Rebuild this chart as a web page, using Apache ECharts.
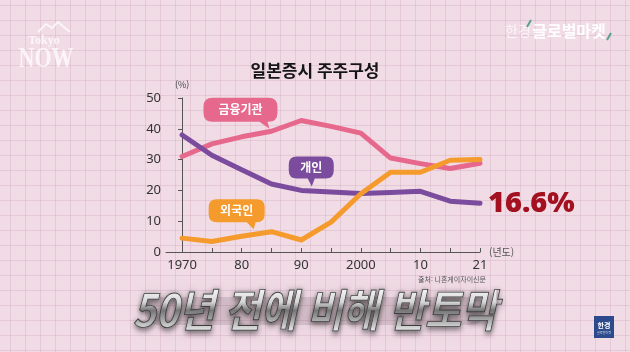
<!DOCTYPE html>
<html lang="ko">
<head>
<meta charset="UTF-8">
<title>일본증시 주주구성</title>
<script src="https://cdn.jsdelivr.net/npm/echarts@6/dist/echarts.min.js"></script>
<style>
    html, body { margin: 0; padding: 0; }
    #wrap { position: relative; width: 630px; height: 352px; }
    #main {
        width: 630px;
        height: 352px;
        background-color: #f1dce6;
        background-image:
            linear-gradient(to right, rgba(200,150,175,0.28) 1px, transparent 1px),
            linear-gradient(to bottom, rgba(200,150,175,0.28) 1px, transparent 1px);
        background-size: 15px 15px;
        background-position: 10px 5px;
    }
    #caption {
        position: absolute;
        left: 0;
        top: 284px;
        width: 630px;
        text-align: center;
        pointer-events: none;
    }
    #caption span {
        display: inline-block;
        font: italic bold 45px/48px "Noto Sans CJK KR", sans-serif;
        letter-spacing: -1px;
        transform: scaleX(0.89);
        color: transparent;
        background: linear-gradient(to bottom, #ffffff 0%, #d6d6d6 38%, #767676 55%, #a8a8a8 75%, #efefef 100%);
        -webkit-background-clip: text;
        background-clip: text;
        -webkit-text-stroke: 0.9px #3e3e3e;
        filter: drop-shadow(0 2px 3px rgba(0,0,0,0.6));
    }
</style>
</head>
<body>
<div id="wrap">
    <div id="main"></div>
    <div id="caption"><span>50년 전에 비해 반토막</span></div>
</div>
<script type="text/javascript">
// 연도 (x축) - 1970~2015는 5년 간격, 마지막은 2021
var years = ['1970', '75', '80', '85', '90', '95', '2000', '05', '10', '15', '21'];
var yearTicks = [0, 1, 2, 3, 4, 5, 6, 7, 8, 9, 10];
var labelTicks = [0, 2, 4, 6, 8, 10];
// 주주 비율 (%)
var financial = [31.0, 35.1, 37.4, 39.2, 42.7, 40.8, 38.6, 30.5, 28.7, 27.1, 28.8];
var individual = [38.0, 31.4, 26.7, 22.1, 20.0, 19.5, 19.0, 19.3, 19.7, 16.5, 15.8];
var foreign = [4.5, 3.4, 5.1, 6.6, 3.9, 9.7, 18.9, 25.9, 25.9, 29.8, 30.0];

var FONT = '"Noto Sans CJK KR", "Noto Sans", sans-serif';

function pairs(arr) {
    var out = [];
    for (var i = 0; i < arr.length; i++) out.push([i, arr[i]]);
    return out;
}

// 말풍선 모양
var bubblePink = 'path://M9,0 H65 Q74,0 74,9 V15 Q74,24 65,24 H64 L66,31 L56,24 H9 Q0,24 0,15 V9 Q0,0 9,0 Z';
var bubblePurple = 'path://M8,0 H37 Q45,0 45,8 V14 Q45,22 37,22 H26 L23,30 L19,22 H8 Q0,22 0,14 V8 Q0,0 8,0 Z';
var bubbleOrange = 'path://M8,0 H48 Q56,0 56,8 V15 Q56,23 48,23 H47 L45,30 L38,23 H8 Q0,23 0,15 V8 Q0,0 8,0 Z';

function bubbleLabel(text) {
    return {
        show: true, position: 'inside', formatter: text,
        color: '#fff', fontSize: 12, fontWeight: 'bold', fontFamily: FONT,
        offset: [0, -3.5]
    };
}

function lineSeries(name, data, color, extra) {
    var s = {
        name: name,
        type: 'line',
        data: pairs(data),
        showSymbol: false,
        symbol: 'none',
        lineStyle: { width: 5, color: color, cap: 'round', join: 'round' },
        itemStyle: { color: color },
        silent: true,
        animation: false
    };
    for (var k in extra) s[k] = extra[k];
    return s;
}

var myChart = echarts.init(document.getElementById('main'), null, { renderer: 'canvas' });

var option = {
    backgroundColor: 'transparent',
    animation: false,
    title: {
        text: '일본증시 주주구성',
        left: 'center',
        top: 57,
        textStyle: { fontFamily: FONT, fontSize: 17, fontWeight: 'bold', color: '#151515' }
    },
    grid: { left: 166, right: 150, top: 98, bottom: 100 },
    xAxis: {
        type: 'value',
        min: -0.54,
        max: 10,
        name: '(년도)',
        nameLocation: 'end',
        nameGap: 9,
        nameTextStyle: { fontFamily: FONT, fontSize: 10, color: '#555' },
        axisLine: { lineStyle: { color: '#555', width: 1 } },
        axisTick: { show: true, inside: true, length: 4, customValues: yearTicks, lineStyle: { color: '#555' } },
        axisLabel: {
            customValues: labelTicks,
            margin: 7,
            fontFamily: '"Noto Sans", sans-serif',
            fontSize: 13,
            color: '#333',
            formatter: function (v) { return years[Math.round(v)]; }
        },
        splitLine: { show: false }
    },
    yAxis: {
        type: 'value',
        min: 0,
        max: 50,
        interval: 10,
        name: '(%)',
        nameGap: 9,
        nameTextStyle: { fontFamily: FONT, fontSize: 9, color: '#444' },
        axisLine: { show: true, lineStyle: { color: '#555', width: 1 } },
        axisTick: { show: true, length: 4, lineStyle: { color: '#555' } },
        axisLabel: { margin: 5, fontFamily: '"Noto Sans", sans-serif', fontSize: 13, color: '#333' },
        splitLine: { show: false }
    },
    series: [
        lineSeries('금융기관', financial, '#e6688c', {
            markPoint: {
                silent: true,
                data: [{
                    coord: [3, financial[3]],
                    symbol: bubblePink, symbolSize: [74, 31], symbolOffset: [-31, -18],
                    itemStyle: { color: '#e6688c' },
                    label: bubbleLabel('금융기관')
                }]
            }
        }),
        lineSeries('개인', individual, '#7b4c9e', {
            endLabel: {
                show: true,
                formatter: '16.6%',
                distance: 8,
                color: '#a3101f',
                fontSize: 29,
                fontWeight: 900,
                fontFamily: '"Noto Sans", sans-serif'
            },
            markPoint: {
                silent: true,
                data: [{
                    coord: [4, individual[4]],
                    symbol: bubblePurple, symbolSize: [45, 30], symbolOffset: [10, -19],
                    itemStyle: { color: '#7b4c9e' },
                    label: bubbleLabel('개인')
                }]
            }
        }),
        lineSeries('외국인', foreign, '#f59a2c', {
            markPoint: {
                silent: true,
                data: [{
                    coord: [2, foreign[2]],
                    symbol: bubbleOrange, symbolSize: [56, 30], symbolOffset: [-5, -22],
                    itemStyle: { color: '#f59a2c' },
                    label: bubbleLabel('외국인')
                }]
            }
        })
    ],
    graphic: [
        // 출처
        { type: 'text', x: 452, y: 279, style: { text: '출처: 니혼게이자이신문', font: '7px ' + FONT, fill: '#555', align: 'center', verticalAlign: 'middle' } },
        // 하단 자막 뒤 어두운 번짐
        { type: 'rect', shape: { x: 145, y: 297, width: 340, height: 28, r: 14 }, style: { fill: 'rgba(70,40,55,0.14)', shadowBlur: 28, shadowColor: 'rgba(70,40,55,0.55)' }, z: 0 },
        // 로고 - Tokyo NOW
        { type: 'polyline', shape: { points: [[38, 32], [46, 24], [52, 28], [58, 22], [70, 32]] }, style: { stroke: 'rgba(255,255,255,0.7)', lineWidth: 2, fill: 'none' } },
        { type: 'text', x: 44, y: 41, style: { text: 'Tokyo', font: 'bold 12px "Liberation Serif", serif', fill: 'rgba(255,255,255,0.75)', align: 'center', verticalAlign: 'middle' } },
        { type: 'text', x: 46, y: 60, scaleY: 1.3, style: { text: 'NOW', font: 'bold 22px "Liberation Serif", serif', fill: 'rgba(255,255,255,0.7)', align: 'center', verticalAlign: 'middle' } },
        // 로고 - 한경 글로벌마켓
        { type: 'text', x: 518, y: 31, style: { text: '한경', font: '14px ' + FONT, fill: 'rgba(255,255,255,0.7)', align: 'center', verticalAlign: 'middle' } },
        { type: 'line', shape: { x1: 527, y1: 27, x2: 531, y2: 20 }, style: { stroke: '#5aa08e', lineWidth: 2 } },
        { type: 'text', x: 569, y: 31, style: { text: '글로벌마켓', font: 'bold 16px ' + FONT, fill: 'rgba(255,255,255,0.95)', align: 'center', verticalAlign: 'middle' } },
        { type: 'line', shape: { x1: 607, y1: 40, x2: 611, y2: 33 }, style: { stroke: '#5aa08e', lineWidth: 2 } },
        // 우측 하단 로고
        { type: 'rect', shape: { x: 594, y: 316, width: 20, height: 22 }, style: { fill: '#2d4b8c' } },
        { type: 'text', x: 604, y: 325, style: { text: '한경', font: 'bold 7px ' + FONT, fill: '#fff', align: 'center', verticalAlign: 'middle' } },
        { type: 'text', x: 604, y: 333, style: { text: '글로벌마켓', font: '3px ' + FONT, fill: '#cfd8ee', align: 'center', verticalAlign: 'middle' } }
    ]
};

myChart.setOption(option);
</script>
</body>
</html>
